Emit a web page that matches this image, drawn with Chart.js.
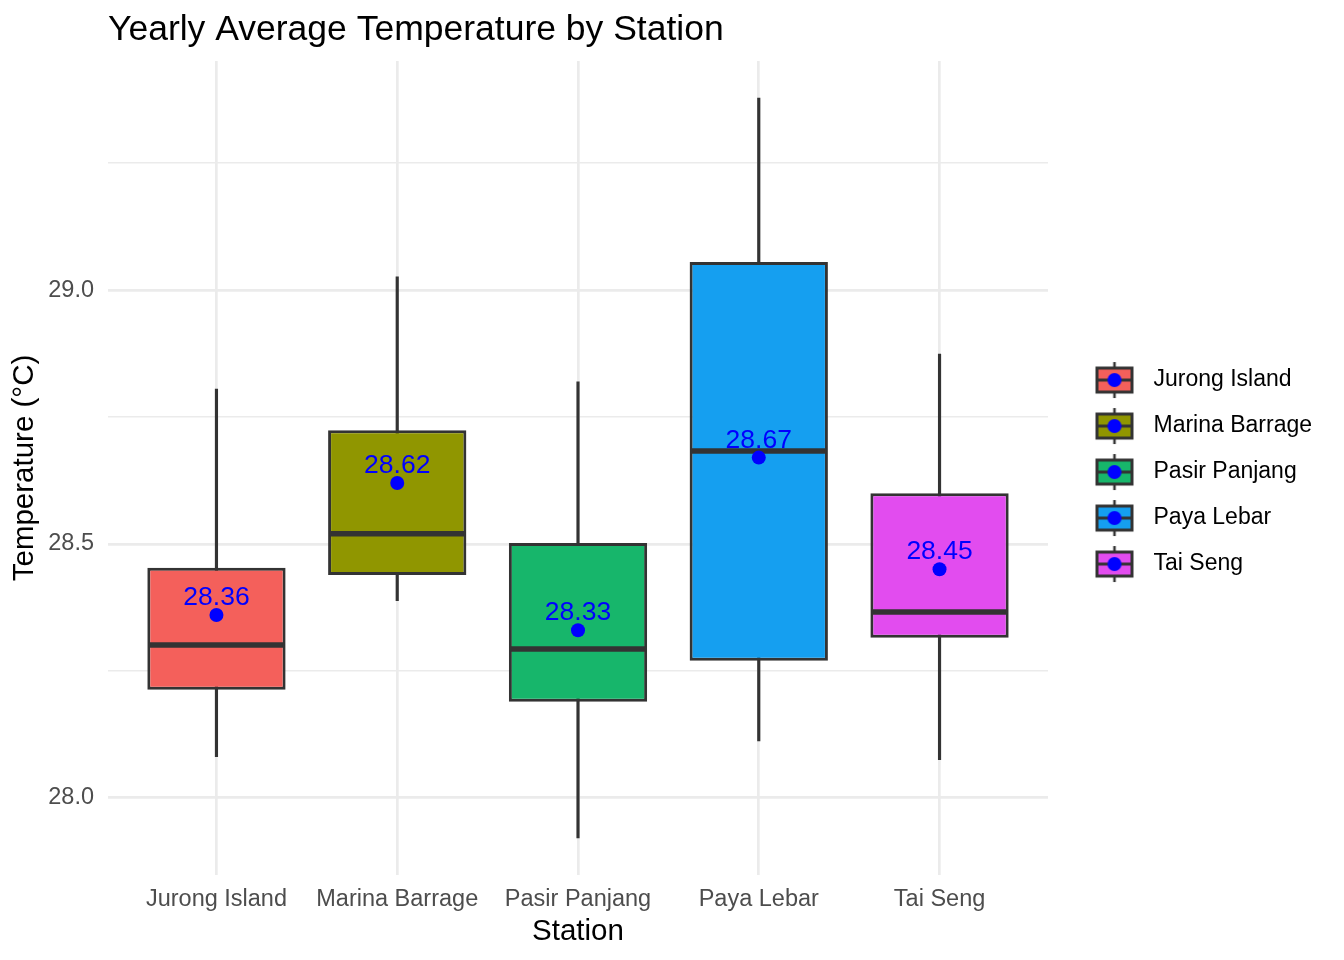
<!DOCTYPE html>
<html lang="en">
<head>
    <meta charset="UTF-8">
    <title>Yearly Average Temperature by Station</title>
    <script src="https://cdn.jsdelivr.net/npm/chart.js"></script>
    <style>
        html, body { margin: 0; padding: 0; background: #ffffff; }
        #wrap { width: 1344px; height: 960px; }
    </style>
</head>
<body>
    <div id="wrap">
        <canvas id="temp-chart" width="1344" height="960"></canvas>
    </div>

    <script>
        // Box plot values (°C)
        const stations = ['Jurong Island', 'Marina Barrage', 'Pasir Panjang', 'Paya Lebar', 'Tai Seng'];
        const whiskerLow = [28.081, 28.388, 27.921, 28.112, 28.075];
        const q1 = [28.213, 28.439, 28.189, 28.270, 28.315];
        const medians = [28.301, 28.520, 28.293, 28.683, 28.366];
        const q3 = [28.453, 28.724, 28.502, 29.055, 28.600];
        const whiskerHigh = [28.805, 29.026, 28.819, 29.378, 28.874];
        const means = [28.36, 28.62, 28.33, 28.67, 28.45];
        const boxColors = ['#F4605B', '#909600', '#17B66B', '#159FF0', '#E24CEF'];

        const FONT = '"Liberation Sans", Arial, Helvetica, sans-serif';
        Chart.defaults.font.family = FONT;

        // Legend key: a tiny boxplot with the blue mean dot
        function makeKey(color) {
            const c = document.createElement('canvas');
            c.width = 72;
            c.height = 38;
            const k = c.getContext('2d');
            const cx = 44;
            k.strokeStyle = '#333333';
            k.lineWidth = 2.5;
            k.beginPath();
            k.moveTo(cx, 1);
            k.lineTo(cx, 37);
            k.stroke();
            k.fillStyle = color;
            k.fillRect(cx - 17.5, 7, 35, 24);
            k.lineWidth = 3;
            k.strokeRect(cx - 17.5, 7, 35, 24);
            k.beginPath();
            k.moveTo(cx - 17.5, 19);
            k.lineTo(cx + 17.5, 19);
            k.stroke();
            k.fillStyle = '#0000FF';
            k.beginPath();
            k.arc(cx, 19, 7, 0, Math.PI * 2);
            k.fill();
            return c;
        }
        const legendKeys = boxColors.map(makeKey);

        // Mean value labels above the blue dots
        const meanLabels = {
            id: 'meanLabels',
            afterDatasetsDraw(chart) {
                const meta = chart.getDatasetMeta(3);
                const ctx = chart.ctx;
                ctx.save();
                ctx.font = '26.5px ' + FONT;
                ctx.fillStyle = '#0000FF';
                ctx.textAlign = 'center';
                ctx.textBaseline = 'alphabetic';
                meta.data.forEach((pt, i) => {
                    ctx.fillText(means[i].toFixed(2), pt.x, pt.y - 10);
                });
                ctx.restore();
            }
        };

        const xs = stations.map((s, i) => i + 1);
        const isMajor = v => Math.abs(v * 2 - Math.round(v * 2)) < 1e-6;

        const ctx = document.getElementById('temp-chart').getContext('2d');
        const tempChart = new Chart(ctx, {
            type: 'bar',
            data: {
                datasets: [
                    {
                        label: 'Whiskers',
                        data: xs.map((x, i) => ({ x: x, y: [whiskerLow[i], whiskerHigh[i]] })),
                        backgroundColor: '#333333',
                        borderWidth: 0,
                        barThickness: 2.5,
                        grouped: false,
                        order: 4
                    },
                    {
                        label: 'Box',
                        data: xs.map((x, i) => ({ x: x, y: [q1[i], q3[i]] })),
                        backgroundColor: boxColors,
                        borderColor: '#333333',
                        borderWidth: 3,
                        borderSkipped: false,
                        categoryPercentage: 1,
                        barPercentage: 0.765,
                        grouped: false,
                        order: 3
                    },
                    {
                        type: 'scatter',
                        label: 'Median',
                        data: xs.map((x, i) => ({ x: x, y: medians[i] })),
                        pointStyle: 'line',
                        radius: 68,
                        hoverRadius: 68,
                        borderColor: '#333333',
                        borderWidth: 5.5,
                        order: 2
                    },
                    {
                        type: 'scatter',
                        label: 'Mean',
                        data: xs.map((x, i) => ({ x: x, y: means[i] })),
                        pointStyle: 'circle',
                        radius: 7,
                        hoverRadius: 7,
                        backgroundColor: '#0000FF',
                        borderWidth: 0,
                        order: 1
                    }
                ]
            },
            options: {
                responsive: false,
                animation: false,
                layout: { autoPadding: false, padding: { left: 0, right: 46, top: 0, bottom: 0 } },
                scales: {
                    x: {
                        type: 'linear',
                        min: 0.4,
                        max: 5.6,
                        offset: false,
                        ticks: {
                            stepSize: 1,
                            includeBounds: false,
                            autoSkip: false,
                            maxRotation: 0,
                            color: '#4D4D4D',
                            font: { size: 23.5 },
                            padding: 10,
                            callback: v => stations[Math.round(v) - 1] || ''
                        },
                        grid: { color: '#EBEBEB', lineWidth: 2.7, drawTicks: false, offset: false },
                        border: { display: false },
                        title: {
                            display: true,
                            text: 'Station',
                            color: '#000000',
                            font: { size: 29.5 },
                            padding: { top: 0, bottom: 10 }
                        },
                        afterFit: scale => { scale.height = 85; }
                    },
                    y: {
                        type: 'linear',
                        min: 27.848,
                        max: 29.451,
                        beginAtZero: false,
                        ticks: {
                            stepSize: 0.25,
                            includeBounds: false,
                            color: '#4D4D4D',
                            font: { size: 23.5 },
                            padding: 14,
                            callback: v => isMajor(v) ? v.toFixed(1) : ''
                        },
                        grid: {
                            color: '#EBEBEB',
                            lineWidth: c => (c.tick && isMajor(c.tick.value)) ? 2.7 : 1.4,
                            drawTicks: false
                        },
                        border: { display: false },
                        title: {
                            display: true,
                            text: 'Temperature (°C)',
                            color: '#000000',
                            font: { size: 29.5 },
                            padding: { top: 7, bottom: 0 }
                        },
                        afterFit: scale => { scale.width = 108; }
                    }
                },
                plugins: {
                    title: {
                        display: true,
                        text: 'Yearly Average Temperature by Station',
                        align: 'start',
                        fullSize: false,
                        color: '#000000',
                        font: { size: 35.5, weight: 'normal' },
                        padding: { top: 9, bottom: 9.4 }
                    },
                    legend: {
                        position: 'right',
                        align: 'center',
                        fullSize: false,
                        onClick: null,
                        // blank title only nudges the keys down to the reference spot
                        title: { display: true, text: ' ', font: { size: 6.67 }, padding: 0 },
                        labels: {
                            usePointStyle: true,
                            pointStyleWidth: 71,
                            padding: 23,
                            color: '#000000',
                            font: { size: 23 },
                            generateLabels: () => stations.map((s, i) => ({
                                text: s,
                                pointStyle: legendKeys[i],
                                fillStyle: boxColors[i],
                                strokeStyle: '#333333',
                                lineWidth: 0,
                                hidden: false,
                                datasetIndex: 1,
                                fontColor: '#000000'
                            }))
                        }
                    },
                    tooltip: { enabled: false }
                }
            },
            plugins: [meanLabels]
        });

        // keep the plot panel's right edge where the reference has it
        tempChart.options.layout.padding.right = Math.max(0, 1344 - 1048 - tempChart.legend.width);
        tempChart.update();
    </script>
</body>
</html>
